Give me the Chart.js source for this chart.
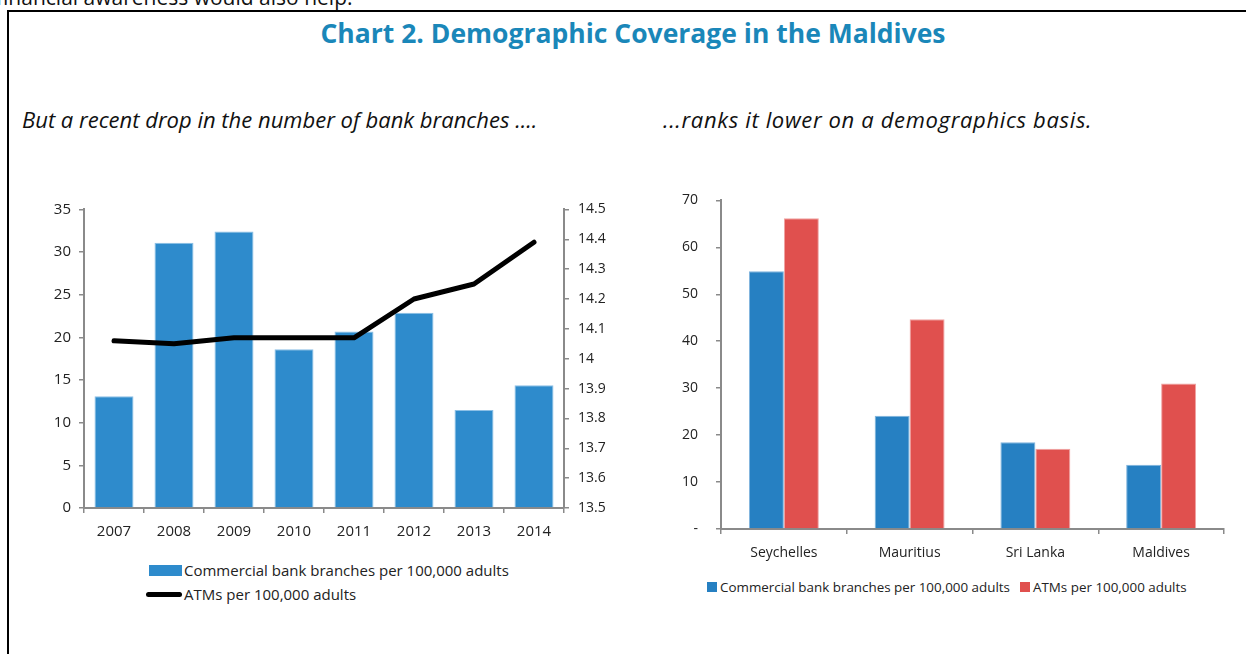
<!DOCTYPE html>
<html>
<head>
<meta charset="utf-8">
<script src="https://cdn.jsdelivr.net/npm/chart.js@4.4.0/dist/chart.umd.min.js"></script>
<style>
  body { margin: 0; width: 1246px; height: 654px; overflow: hidden; background: #fff; position: relative; font-family: "Open Sans", sans-serif; }
  .frame { position: absolute; left: 7px; top: 10px; width: 1260px; height: 700px; border: 2px solid #000; }
  .above { position: absolute; left: -4px; top: -17px; font-size: 21px; color: #111; white-space: nowrap; }
  .title { position: absolute; left: 0; width: 1266px; top: 15px; text-align: center; font-size: 26.5px; font-weight: bold; color: #1a87b9; }
  .sub { position: absolute; top: 104px; font-size: 22px; font-style: italic; color: #111; white-space: nowrap; }
  canvas { position: absolute; }
  .legend { position: absolute; color: #222; white-space: nowrap; }
  .legend .item { display: flex; align-items: center; }
  #legend1 { left: 146px; top: 558px; font-size: 15px; }
  #legend1 .item { height: 24px; }
  #legend2 { left: 707px; top: 578px; font-size: 13.4px; display: flex; }
  #legend2 .item { margin-right: 10px; }
</style>
</head>
<body>
<div class="above">financial awareness would also help.</div>
<div class="frame"></div>
<div class="title">Chart 2. Demographic Coverage in the Maldives</div>
<div class="sub" style="left:22px">But a recent drop in the number of bank branches ....</div>
<div class="sub" style="left:663px;letter-spacing:0.65px">...ranks it lower on a demographics basis.</div>

<canvas id="left-chart" width="600" height="353" style="left:20px;top:192px"></canvas>
<canvas id="right-chart" width="586" height="401" style="left:660px;top:174px"></canvas>
<div class="legend" id="legend1"></div>
<div class="legend" id="legend2"></div>

<script>
// left panel: Maldives over time
const years = ['2007', '2008', '2009', '2010', '2011', '2012', '2013', '2014'];
const branches = [13.1, 31.1, 32.4, 18.6, 20.7, 22.9, 11.5, 14.4];
const atms = [14.06, 14.05, 14.07, 14.07, 14.07, 14.2, 14.25, 14.39];

// right panel: country comparison
const countries = ['Seychelles', 'Mauritius', 'Sri Lanka', 'Maldives'];
const branchesByCountry = [54.9, 24.1, 18.5, 13.7];
const atmsByCountry = [66.2, 44.7, 17.1, 31.0];

const seriesNames = ['Commercial bank branches per 100,000 adults', 'ATMs per 100,000 adults'];

const axisGrey = '#8a8a8a';
const tickFont = { family: 'Open Sans', size: 15 };
const smallFont = { family: 'Open Sans', size: 14 };

function axisStyle(extra) {
  return Object.assign({
    grid: { display: true, drawOnChartArea: false, drawTicks: true, tickLength: 5, color: axisGrey, lineWidth: 1.5 },
    border: { display: true, color: axisGrey, width: 2 },
  }, extra);
}

function fixSize(prop, v) {
  return function (scale) { scale[prop] = v; };
}

const leftChart = new Chart(document.getElementById('left-chart'), {
  type: 'bar',
  data: {
    labels: years,
    datasets: [{
      type: 'line',
      label: seriesNames[1],
      data: atms,
      yAxisID: 'y1',
      borderColor: '#000',
      borderWidth: 5,
      borderCapStyle: 'round',
      borderJoinStyle: 'round',
      pointRadius: 0,
      tension: 0,
      order: 0
    }, {
      label: seriesNames[0],
      data: branches,
      yAxisID: 'y',
      backgroundColor: '#2e8bcc',
      borderColor: '#8cc0e6',
      borderWidth: 1,
      barPercentage: 0.65,
      categoryPercentage: 1,
      order: 1
    }]
  },
  options: {
    responsive: false,
    animation: false,
    devicePixelRatio: 1,
    layout: { padding: { top: 11, left: 0, right: 0, bottom: 0 } },
    plugins: { legend: { display: false }, tooltip: { enabled: false } },
    scales: {
      x: axisStyle({
        ticks: { font: tickFont, color: '#222', padding: 10 },
        afterFit: fixSize('height', 37)
      }),
      y: axisStyle({
        position: 'left',
        min: 0, max: 35,
        ticks: { stepSize: 5, font: tickFont, color: '#222', padding: 8 },
        afterFit: fixSize('width', 64)
      }),
      y1: axisStyle({
        position: 'right',
        min: 13.5, max: 14.5,
        ticks: {
          stepSize: 0.1, font: smallFont, color: '#222', padding: 9,
          callback: (v) => String(Number(v.toFixed(1)))
        },
        afterFit: fixSize('width', 56)
      })
    }
  }
});

const rightChart = new Chart(document.getElementById('right-chart'), {
  type: 'bar',
  data: {
    labels: countries,
    datasets: [{
      label: seriesNames[0],
      data: branchesByCountry,
      backgroundColor: '#2680c2',
      borderColor: '#7fb4dd',
      borderWidth: 1
    }, {
      label: seriesNames[1],
      data: atmsByCountry,
      backgroundColor: '#e0504e',
      borderColor: '#f0a3a2',
      borderWidth: 1
    }]
  },
  options: {
    responsive: false,
    animation: false,
    devicePixelRatio: 1,
    datasets: { bar: { categoryPercentage: 0.556, barPercentage: 1 } },
    layout: { padding: { top: 5, left: 0, right: 22, bottom: 0 } },
    plugins: { legend: { display: false }, tooltip: { enabled: false } },
    scales: {
      x: axisStyle({
        ticks: { font: smallFont, color: '#222', padding: 11 },
        afterFit: fixSize('height', 46)
      }),
      y: axisStyle({
        min: 0, max: 70,
        ticks: {
          stepSize: 10, font: smallFont, color: '#222', padding: 18,
          callback: (v) => v === 0 ? '-' : v
        },
        afterFit: fixSize('width', 61)
      })
    }
  }
});

// html legends built from the chart datasets
function buildLegend(chart, el, boxFor) {
  const sets = chart.data.datasets.slice().sort((a, b) => (b.order || 0) - (a.order || 0));
  sets.forEach(ds => {
    const item = document.createElement('div');
    item.className = 'item';
    item.appendChild(boxFor(ds));
    const txt = document.createElement('span');
    txt.textContent = ds.label;
    item.appendChild(txt);
    el.appendChild(item);
  });
}

buildLegend(leftChart, document.getElementById('legend1'), ds => {
  const b = document.createElement('span');
  if (ds.type === 'line') {
    b.style.cssText = 'display:inline-block;width:36px;height:5px;border-radius:3px;margin-right:2px;background:' + ds.borderColor;
  } else {
    b.style.cssText = 'display:inline-block;width:33px;height:11px;margin:0 2px 0 3px;background:' + ds.backgroundColor;
  }
  return b;
});

buildLegend(rightChart, document.getElementById('legend2'), ds => {
  const b = document.createElement('span');
  b.style.cssText = 'display:inline-block;width:10px;height:10px;margin-right:3px;background:' + ds.backgroundColor;
  return b;
});
</script>
</body>
</html>
